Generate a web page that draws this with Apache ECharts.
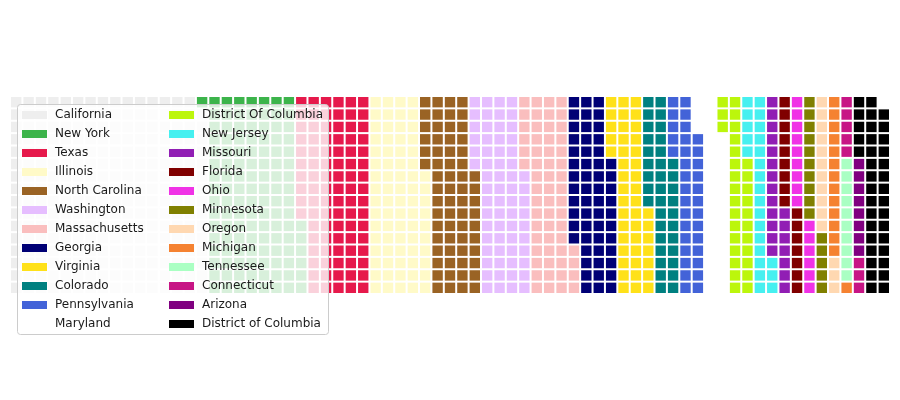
<!DOCTYPE html>
<html>
<head>
<meta charset="utf-8">
<script src="https://cdn.jsdelivr.net/npm/echarts@6/dist/echarts.min.js"></script>
<style>
  html, body { margin: 0; padding: 0; background: #fff; }
  #main { width: 900px; height: 400px; }
</style>
</head>
<body>
<div id="main"></div>
<script>
// states in fill order, cell counts and colours
var states = ['California', 'New York', 'Texas', 'Illinois', 'North Carolina', 'Washington',
  'Massachusetts', 'Georgia', 'Virginia', 'Colorado', 'Pennsylvania', 'Maryland',
  'District Of Columbia', 'New Jersey', 'Missouri', 'Florida', 'Ohio', 'Minnesota',
  'Oregon', 'Michigan', 'Tennessee', 'Connecticut', 'Arizona', 'District of Columbia'];
var counts = [255, 119, 90, 74, 64, 64, 58, 55, 44, 36, 34, 32,
  30, 24, 20, 16, 15, 15, 14, 14, 10, 8, 8, 36];
var colors = ['#eeeeee', '#3cb44b', '#e6194b', '#fffac8', '#9a6324', '#e6beff',
  '#fabebe', '#000075', '#ffe119', '#008080', '#4363d8', '#ffffff',
  '#bcf60c', '#46f0f0', '#911eb4', '#800000', '#f032e6', '#808000',
  '#ffd8b1', '#f58231', '#aaffc3', '#c71585', '#800080', '#000000'];
var nRows = 16;
var nCols = 71;

var myChart = echarts.init(document.getElementById('main'));

// fill column by column, bottom to top
var series = [];
var k = 0;
states.forEach(function (name, i) {
  var cells = [];
  for (var j = 0; j < counts[i]; j++) {
    cells.push([Math.floor(k / nRows), k % nRows]);
    k++;
  }
  series.push({
    name: name,
    type: 'custom',
    itemStyle: { color: colors[i] },
    renderItem: function (params, api) {
      var p = api.coord([api.value(0), api.value(1)]);
      var s = api.size([1, 1]);
      return {
        type: 'rect',
        shape: { x: p[0] - s[0] / 2 + 1, y: p[1] - s[1] / 2 + 1, width: s[0] - 2, height: s[1] - 2 },
        style: { fill: api.visual('color') }
      };
    },
    data: cells
  });
});

function makeLegend(names, left) {
  return {
    orient: 'vertical',
    left: left,
    top: 109,
    padding: 0,
    itemWidth: 25,
    itemHeight: 8,
    itemGap: 7,
    icon: 'rect',
    selectedMode: false,
    z: 10,
    textStyle: { fontSize: 12, fontFamily: 'DejaVu Sans', color: '#1a1a1a', padding: [0, 0, 0, 3] },
    data: names
  };
}

var option = {
  animation: false,
  grid: { left: 10, right: 10, top: 96, bottom: 106 },
  xAxis: { type: 'value', min: -0.5, max: nCols - 0.5, show: false },
  yAxis: { type: 'value', min: -0.5, max: nRows - 0.5, show: false },
  legend: [makeLegend(states.slice(0, 12), 22), makeLegend(states.slice(12), 169)],
  graphic: {
    elements: [{
      type: 'rect',
      z: 5,
      shape: { x: 17.5, y: 104.5, width: 311, height: 230, r: 3 },
      style: { fill: 'rgba(255,255,255,0.8)', stroke: '#cccccc', lineWidth: 1 }
    }]
  },
  series: series
};

myChart.setOption(option);
</script>
</body>
</html>
